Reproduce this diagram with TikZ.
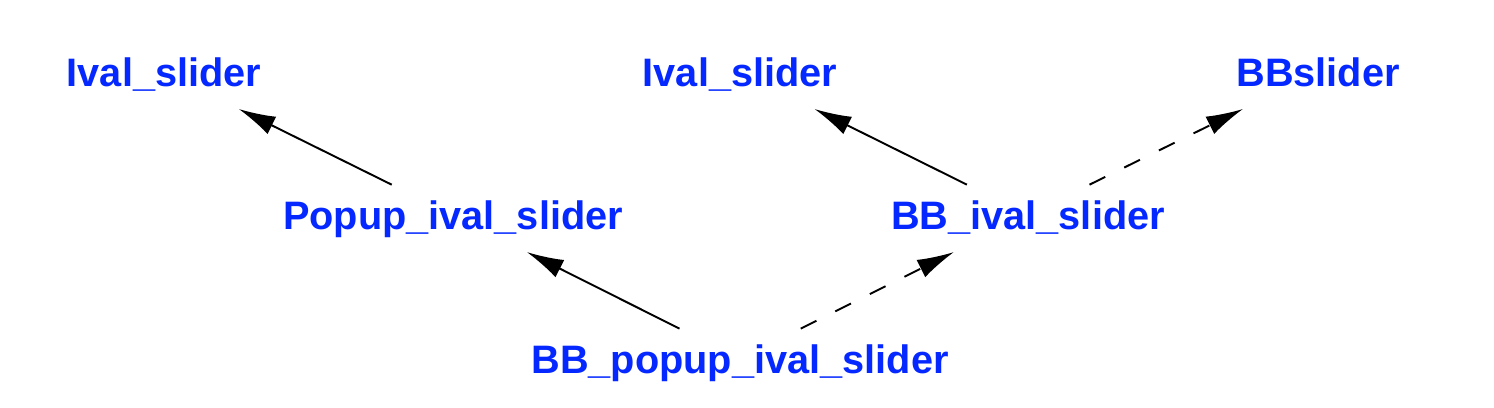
\documentclass[tikz,border=0pt]{standalone}
\usepackage{fontspec}
\setmainfont{Liberation Sans}
\usetikzlibrary{arrows.meta}
\definecolor{clsblue}{RGB}{4,40,255}
\tikzset{
  cls/.style={text=clsblue,font=\fontsize{22.6pt}{26pt}\selectfont\bfseries,
    inner sep=0pt,text height=16pt,text depth=0pt,minimum height=1.2cm},
  inh/.style={-{Latex[length=21pt,width=11pt]},line width=1.1pt,shorten >=0.3cm},
  impl/.style={inh,dash pattern=on 10pt off 12pt}
}
\begin{document}
\begin{tikzpicture}[x=0.02cm,y=-0.02cm]
  \useasboundingbox (0,0) rectangle (1494,408);
%% nodes
  \node[cls] (ivalA)  at (164,72)  {Ival\_slider};
  \node[cls] (ivalB)  at (740,72)  {Ival\_slider};
  \node[cls] (bbsl)   at (1318,72) {BBslider};
  \node[cls] (popup)  at (453,215) {Popup\_ival\_slider};
  \node[cls] (bbival) at (1028,215) {BB\_ival\_slider};
  \node[cls] (bbpop)  at (740,359) {BB\_popup\_ival\_slider};

%% solid arrows
  \draw[inh] (popup) -- (ivalA);
  \draw[inh] (bbival) -- (ivalB);
  \draw[inh] (bbpop) -- (popup);

%% dashed arrows
  \draw[impl] (bbival) -- (bbsl);
  \draw[impl] (bbpop) -- (bbival);
\end{tikzpicture}
\end{document}
